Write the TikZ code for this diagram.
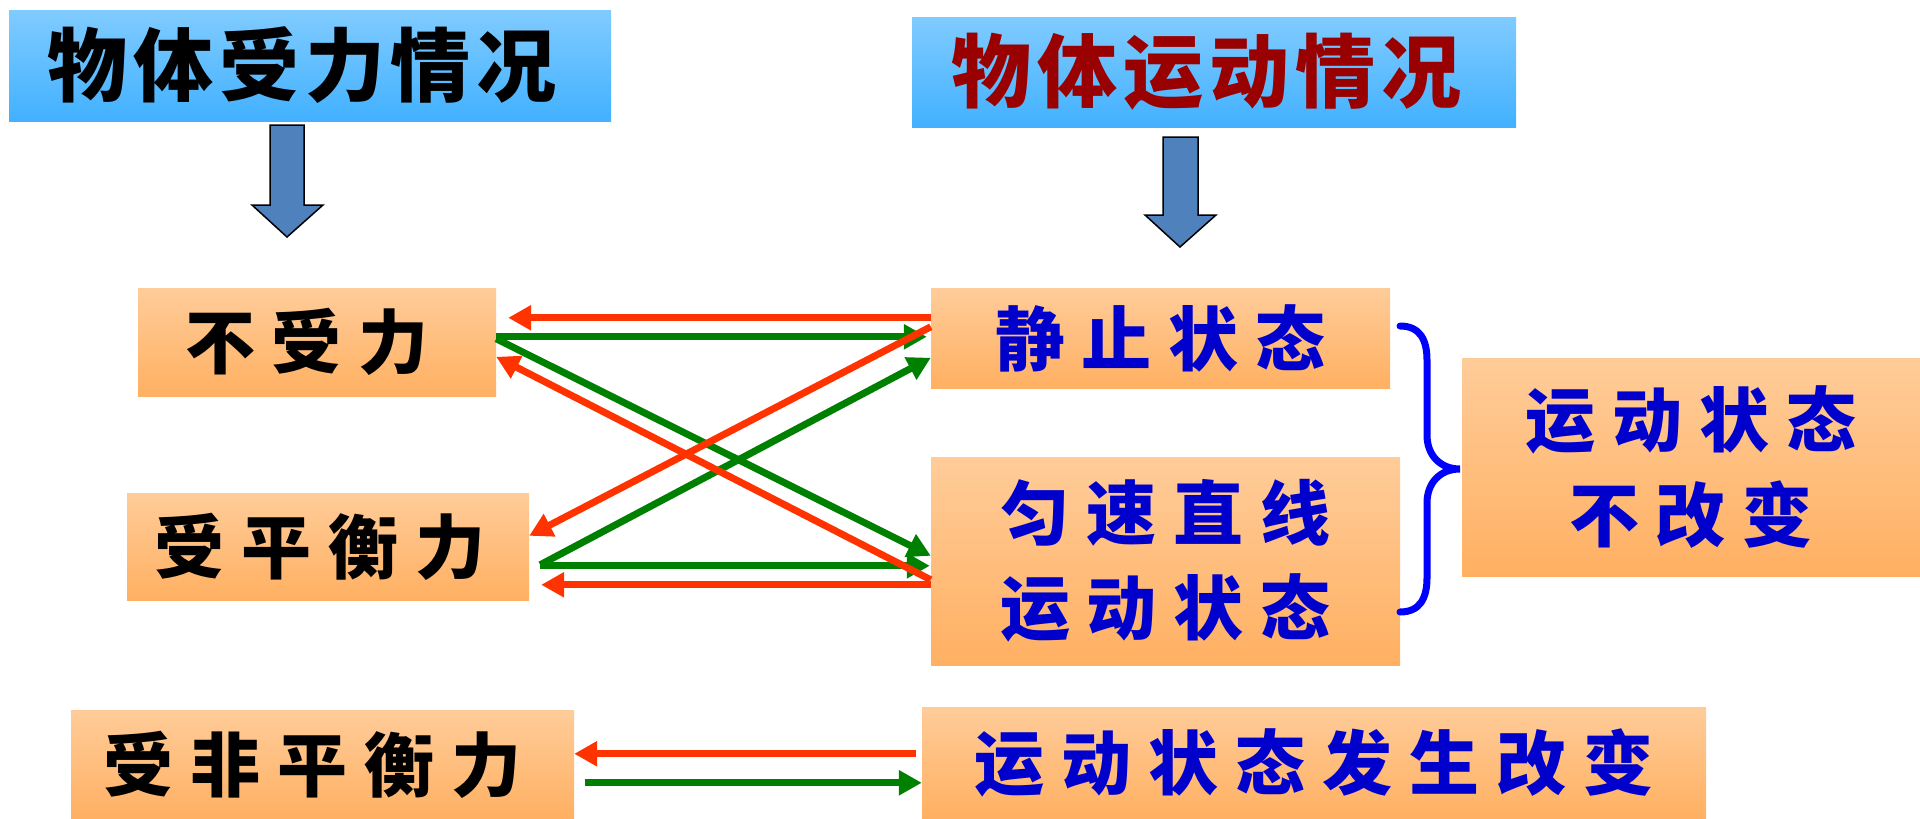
\documentclass[tikz,border=0pt]{standalone}
\usepackage{fontspec}
\newfontfamily\cjk{Noto Sans CJK SC}
\usetikzlibrary{arrows.meta,calc}
\definecolor{tblue1}{HTML}{80CBFF}
\definecolor{tblue2}{HTML}{42B1FF}
\definecolor{or1}{HTML}{FFCC99}
\definecolor{or2}{HTML}{FFB062}
\definecolor{dred}{HTML}{990000}
\definecolor{tblue}{HTML}{0000CC}
\definecolor{ared}{HTML}{FF3300}
\definecolor{agreen}{HTML}{008000}
\definecolor{barrow}{HTML}{4F81BD}
\definecolor{bracecol}{HTML}{0000FF}
\newcommand\gp{\hspace{17pt}}
\newcommand\tg{\hspace{6pt}}
\tikzset{
  titlebox/.style={shading=axis, top color=tblue1, bottom color=tblue2, inner sep=0pt,
    font=\cjk\bfseries\fontsize{80}{90}\selectfont},
  obox/.style={shading=axis, top color=or1, bottom color=or2, inner sep=0pt, align=center,
    font=\cjk\bfseries\fontsize{70}{95}\selectfont},
  rarr/.style={draw=ared, line width=7pt, -{Triangle[length=23pt,width=24pt]}},
  garr/.style={draw=agreen, line width=7pt, -{Triangle[length=23pt,width=24pt]}},
  blockarrow/.style={fill=barrow, draw=black, line width=1.5pt, line join=miter},
  bracestyle/.style={draw=bracecol, line width=7pt, line cap=round},
}
\begin{document}
\begin{tikzpicture}[x=1pt,y=-1pt]
\useasboundingbox (0,0) rectangle (1920,819);
% titles
\node[titlebox, minimum width=602pt, minimum height=111pt] (T1) at (310,65.5) {物\tg 体\tg 受\tg 力\tg 情\tg 况\hspace*{16pt}};
\node[titlebox, minimum width=604pt, minimum height=110pt, text=dred] (T2) at (1214,72) {物\tg 体\tg 运\tg 动\tg 情\tg 况\hspace*{16pt}};
% block arrows
\draw[blockarrow] (270,125) -- (304,125) -- (304,205) -- (323,205) -- (287,237) -- (252,205) -- (270,205) -- cycle;
\draw[blockarrow] (1163,137) -- (1198,137) -- (1198,215) -- (1216,215) -- (1180,247) -- (1145,215) -- (1163,215) -- cycle;
% boxes
\node[obox, minimum width=358pt, minimum height=108pt] (A) at (317,342) {不\gp 受\gp 力\hspace*{20pt}};
\node[obox, minimum width=402pt, minimum height=107pt] (B) at (328,546.5) {受\gp 平\gp 衡\gp 力\hspace*{16pt}};
\node[obox, minimum width=459pt, minimum height=100pt, text=tblue] (C) at (1160.5,338) {静\gp 止\gp 状\gp 态};
\node[obox, minimum width=469pt, minimum height=208pt, text=tblue] (D) at (1165.5,561) {匀\gp 速\gp 直\gp 线\\运\gp 动\gp 状\gp 态};
\node[obox, minimum width=458pt, minimum height=218pt, text=tblue] (E) at (1691,467) {运\gp 动\gp 状\gp 态\\不\gp 改\gp 变};
\node[obox, minimum width=503pt, minimum height=109pt] (F) at (322.5,764.5) {受\gp 非\gp 平\gp 衡\gp 力\hspace*{20pt}};
\node[obox, minimum width=784pt, minimum height=112pt, text=tblue] (G) at (1314,763) {运\gp 动\gp 状\gp 态\gp 发\gp 生\gp 改\gp 变};
% brace
\draw[bracestyle] (1400,326) .. controls (1420,326) and (1427,340) .. (1427,360)
  -- (1427,435) .. controls (1427,455) and (1440,469) .. (1460,469)
  .. controls (1440,469) and (1427,483) .. (1427,503)
  -- (1427,578) .. controls (1427,598) and (1420,612) .. (1400,612);
% green connectors
\draw[garr] ($(A.north east)+(0,49)$) -- ($(C.north west)+(-4,49)$);
\draw[garr] ($(A.north east)+(0,51)$) -- ($(D.north west)+(0,99)$);
\draw[garr] ($(B.north east)+(11,72)$) -- ($(C.north west)+(0,70)$);
\draw[garr] ($(B.north east)+(11,73)$) -- ($(D.north west)+(-1,109)$);
% red connectors
\draw[rarr] ($(C.north west)+(0,30)$) -- ($(A.north east)+(12,30)$);
\draw[rarr] ($(D.north west)+(0,123)$) -- ($(A.north east)+(0,69)$);
\draw[rarr] ($(C.north west)+(0,39)$) -- ($(B.north east)+(0,43)$);
\draw[rarr] ($(D.north west)+(0,128)$) -- ($(B.north east)+(12,92)$);
% bottom pair
\draw[rarr] ($(G.north west)+(-6,47)$) -- ($(F.north east)+(0,44)$);
\draw[garr] ($(F.north east)+(11,73)$) -- ($(G.north west)+(0,76)$);
\end{tikzpicture}
\end{document}
